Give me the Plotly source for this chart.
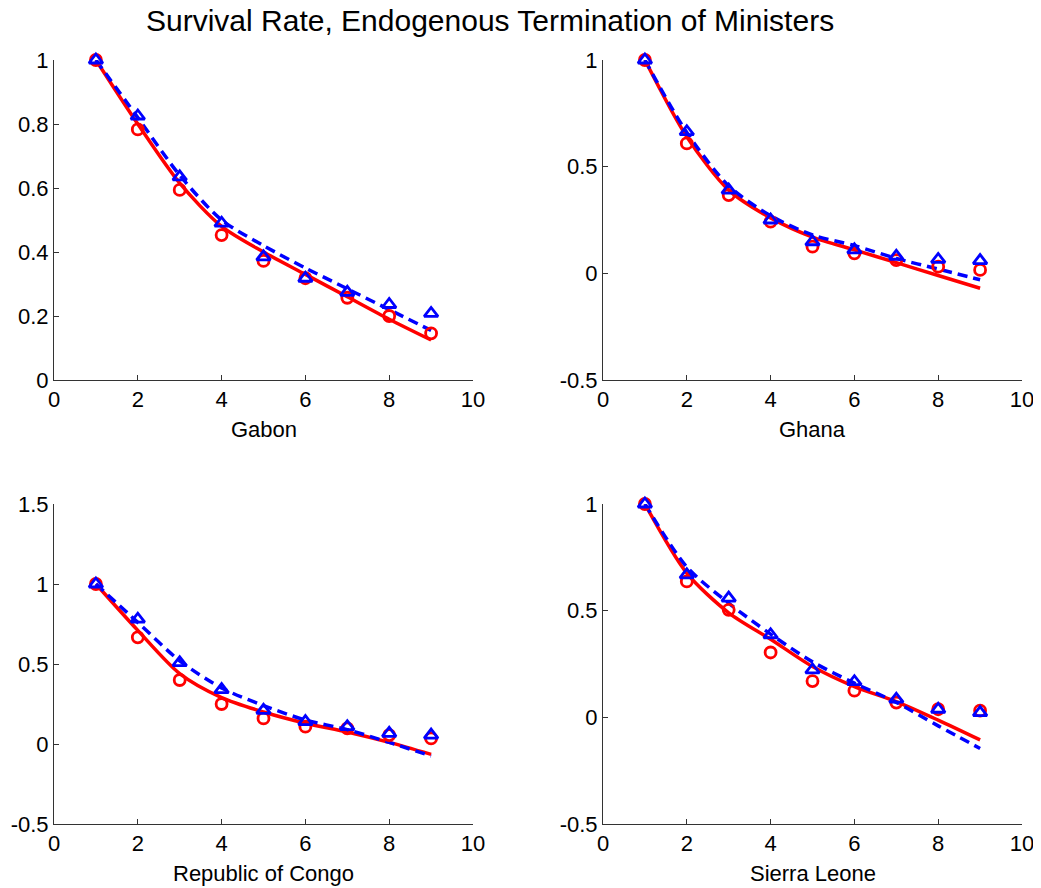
import plotly.graph_objects as go

# ---------------- data ----------------
periods = [1, 2, 3, 4, 5, 6, 7, 8, 9]

panel_names = ["Gabon", "Ghana", "Republic of Congo", "Sierra Leone"]

# observed survival (red circles)
gabon_obs_red = [1.0, 0.783, 0.594, 0.453, 0.372, 0.318, 0.257, 0.200, 0.146]
ghana_obs_red = [1.0, 0.609, 0.367, 0.242, 0.125, 0.094, 0.062, 0.031, 0.016]
congo_obs_red = [1.0, 0.667, 0.400, 0.250, 0.160, 0.108, 0.098, 0.056, 0.035]
sierra_obs_red = [1.0, 0.637, 0.504, 0.304, 0.170, 0.125, 0.069, 0.038, 0.031]

# observed survival (blue triangles)
gabon_obs_blue = [1.0, 0.825, 0.635, 0.490, 0.385, 0.318, 0.274, 0.236, 0.208]
ghana_obs_blue = [1.0, 0.664, 0.390, 0.250, 0.148, 0.110, 0.080, 0.065, 0.060]
congo_obs_blue = [1.0, 0.780, 0.508, 0.340, 0.210, 0.140, 0.108, 0.067, 0.056]
sierra_obs_blue = [1.0, 0.668, 0.559, 0.387, 0.222, 0.167, 0.085, 0.038, 0.022]

# fitted curves (red solid)
gabon_fit_red = [1.0, 0.800, 0.615, 0.480, 0.400, 0.330, 0.260, 0.190, 0.125]
ghana_fit_red = [1.0, 0.640, 0.390, 0.260, 0.170, 0.110, 0.050, -0.010, -0.070]
congo_fit_red = [1.0, 0.710, 0.440, 0.290, 0.200, 0.130, 0.075, 0.010, -0.065]
sierra_fit_red = [1.0, 0.676, 0.490, 0.366, 0.238, 0.144, 0.074, -0.013, -0.106]

# fitted curves (blue dashed)
gabon_fit_blue = [1.0, 0.820, 0.640, 0.500, 0.420, 0.350, 0.285, 0.220, 0.155]
ghana_fit_blue = [1.0, 0.660, 0.410, 0.270, 0.180, 0.130, 0.070, 0.020, -0.030]
congo_fit_blue = [1.0, 0.760, 0.520, 0.350, 0.240, 0.150, 0.090, 0.010, -0.075]
sierra_fit_blue = [1.0, 0.705, 0.535, 0.390, 0.260, 0.160, 0.070, -0.040, -0.146]

x_tick_vals = [0, 2, 4, 6, 8, 10]
x_tick_text = ["0", "2", "4", "6", "8", "10"]

gabon_y_vals = [0, 0.2, 0.4, 0.6, 0.8, 1]
gabon_y_text = ["0", "0.2", "0.4", "0.6", "0.8", "1"]
ghana_y_vals = [-0.5, 0, 0.5, 1]
ghana_y_text = ["-0.5", "0", "0.5", "1"]
congo_y_vals = [-0.5, 0, 0.5, 1, 1.5]
congo_y_text = ["-0.5", "0", "0.5", "1", "1.5"]
sierra_y_vals = [-0.5, 0, 0.5, 1]
sierra_y_text = ["-0.5", "0", "0.5", "1"]

y_ranges = [[0, 1], [-0.5, 1], [-0.5, 1.5], [-0.5, 1]]

title_text = "Survival Rate, Endogenous Termination of Ministers"

# ---------------- figure ----------------
OFF = 8                      # page body margin of the browser
W, H = 1041 - OFF, 888 - OFF
RED = "#ff0000"
BLUE = "#0000ff"
FONT = "Liberation Sans, Arial, sans-serif"

panels = [
    (gabon_obs_red, gabon_obs_blue, gabon_fit_red, gabon_fit_blue, gabon_y_vals, gabon_y_text),
    (ghana_obs_red, ghana_obs_blue, ghana_fit_red, ghana_fit_blue, ghana_y_vals, ghana_y_text),
    (congo_obs_red, congo_obs_blue, congo_fit_red, congo_fit_blue, congo_y_vals, congo_y_text),
    (sierra_obs_red, sierra_obs_blue, sierra_fit_red, sierra_fit_blue, sierra_y_vals, sierra_y_text),
]

# page-pixel boxes of the four axes: (left, right, top, bottom)
boxes = [(54, 473, 60, 380), (603, 1022, 60, 380), (54, 473, 504, 824), (603, 1022, 504, 824)]


def px_x(p):
    return (p - OFF) / W


def px_y(p):
    return 1 - (p - OFF) / H


fig = go.Figure()
layout = dict(
    width=W, height=H,
    margin=dict(l=0, r=0, t=0, b=0),
    paper_bgcolor="white", plot_bgcolor="white",
    showlegend=False,
    font=dict(family=FONT, size=22, color="black"),
    annotations=[],
)

for i, (ored, oblue, fred, fblue, yv, yt) in enumerate(panels):
    n = i + 1
    xa = "x" if n == 1 else f"x{n}"
    ya = "y" if n == 1 else f"y{n}"
    common = dict(xaxis=xa, yaxis=ya, x=periods, cliponaxis=False)
    fig.add_trace(go.Scatter(y=fred, mode="lines", line=dict(color=RED, width=3.5, shape="spline", smoothing=0.8), **common))
    fig.add_trace(go.Scatter(y=fblue, mode="lines", line=dict(color=BLUE, width=3.5, dash="10px,6px", shape="spline", smoothing=0.8), **common))
    fig.add_trace(go.Scatter(y=ored, mode="markers",
                             marker=dict(symbol="circle-open", size=11, color=RED, line=dict(width=2.8, color=RED)), **common))
    fig.add_trace(go.Scatter(y=oblue, mode="markers",
                             marker=dict(symbol="triangle-up-open", size=12, color=BLUE, line=dict(width=2.8, color=BLUE)), **common))

    l, r, t, b = boxes[i]
    xkey = "xaxis" if n == 1 else f"xaxis{n}"
    ykey = "yaxis" if n == 1 else f"yaxis{n}"
    layout[xkey] = dict(
        domain=[px_x(l), px_x(r)], anchor=ya, range=[0, 10],
        tickmode="array", tickvals=x_tick_vals, ticktext=x_tick_text,
        ticks="inside", ticklen=5, tickwidth=1, tickcolor="#333333",
        showline=True, linecolor="#333333", linewidth=1,
        showgrid=False, zeroline=False, automargin=False,
        tickfont=dict(family=FONT, size=22, color="black"),
    )
    layout[ykey] = dict(
        domain=[px_y(b), px_y(t)], anchor=xa, range=y_ranges[i],
        tickmode="array", tickvals=yv, ticktext=yt,
        ticks="inside", ticklen=5, tickwidth=1, tickcolor="#333333",
        showline=True, linecolor="#333333", linewidth=1,
        showgrid=False, zeroline=False, automargin=False,
        tickfont=dict(family=FONT, size=22, color="black"),
    )
    layout["annotations"].append(dict(
        text=panel_names[i], xref="paper", yref="paper",
        x=px_x((l + r) / 2), y=px_y(b + 49),
        xanchor="center", yanchor="middle", showarrow=False,
        font=dict(family=FONT, size=22, color="black"),
    ))

layout["annotations"].append(dict(
    text=title_text, xref="paper", yref="paper",
    x=px_x(490), y=px_y(20), xanchor="center", yanchor="middle",
    showarrow=False, font=dict(family=FONT, size=30, color="black"),
))

fig.update_layout(**layout)
fig.write_html("out.html")
